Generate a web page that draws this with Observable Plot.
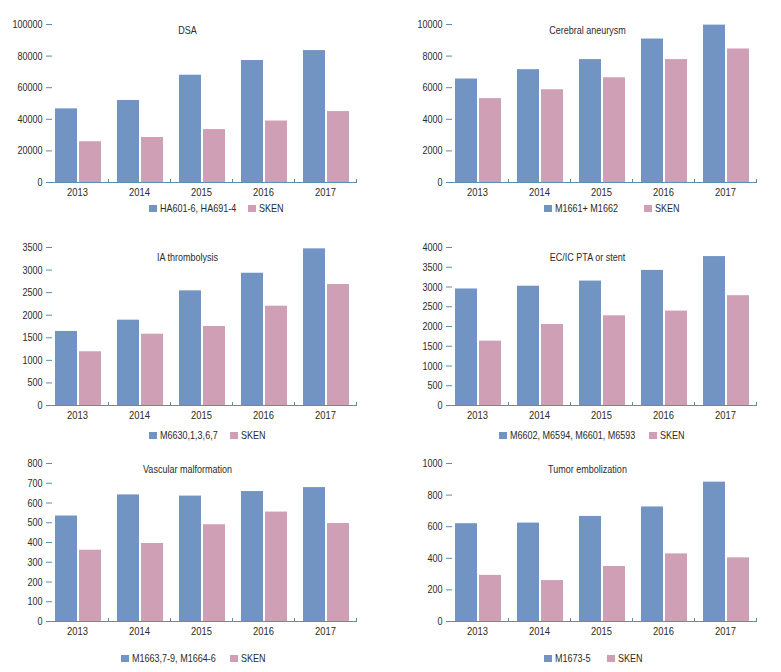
<!DOCTYPE html>
<html>
<head>
<meta charset="utf-8">
<script src="https://cdn.jsdelivr.net/npm/d3@7"></script>
<script src="https://cdn.jsdelivr.net/npm/@observablehq/plot@0.6"></script>
<style>
  body { margin: 0; background: #fff; }
  #root { position: relative; width: 781px; height: 672px; overflow: hidden;
          font-family: "Liberation Sans", Arial, sans-serif; }
  .panel { position: absolute; }
  .leg { position: absolute; display: flex; align-items: center; font-size: 11px; color: #2b2b2b;
         white-space: nowrap; transform: translateY(-50%); }
  .sw { display: inline-block; width: 8px; height: 7px; margin-right: 3px; }
  .lt { display: inline-block; transform: scaleX(0.82); transform-origin: 0 50%; }
</style>
</head>
<body>
<div id="root"></div>
<script>
// ---------- DATA ----------
const years = ["2013", "2014", "2015", "2016", "2017"];

const titles = ["DSA", "Cerebral aneurysm", "IA thrombolysis", "EC/IC PTA or stent",
                "Vascular malformation", "Tumor embolization"];

const codeNames = ["HA601-6, HA691-4", "M1661+ M1662", "M6630,1,3,6,7",
                   "M6602, M6594, M6601, M6593", "M1663,7-9, M1664-6", "M1673-5"];
const skenName = "SKEN";

const dsaCode   = [46600, 51900, 67900, 77200, 83500];
const dsaSken   = [25800, 28500, 33500, 38900, 44900];
const aneurCode = [6550, 7140, 7780, 9080, 9960];
const aneurSken = [5310, 5870, 6630, 7780, 8450];
const iaCode    = [1640, 1890, 2540, 2930, 3470];
const iaSken    = [1190, 1580, 1750, 2200, 2680];
const ecicCode  = [2950, 3020, 3150, 3420, 3770];
const ecicSken  = [1630, 2050, 2270, 2390, 2780];
const vascCode  = [534, 641, 635, 658, 678];
const vascSken  = [361, 395, 490, 554, 496];
const tumorCode = [619, 623, 665, 725, 882];
const tumorSken = [292, 259, 348, 428, 403];

const yMaxes = [100000, 10000, 3500, 4000, 800, 1000];
const yTickSteps = [20000, 2000, 500, 500, 100, 200];

const codeSeries = [dsaCode, aneurCode, iaCode, ecicCode, vascCode, tumorCode];
const skenSeries = [dsaSken, aneurSken, iaSken, ecicSken, vascSken, tumorSken];

// ---------- STYLE / LAYOUT ----------
const BLUE = "#7194c2";
const PINK = "#cf9fb5";
const AXIS = "#5a8db0";
const TEXT = "#2b2b2b";
const FONT = '"Liberation Sans", Arial, sans-serif';
const NARROW = 0.82;

const colLeft = [0, 390];
const colWidth = [390, 391];
const colMarginLeft = [45, 54];
const colMarginRight = [33, 24];
const rowTopTick = [24, 247, 463];
const titleDy = [2, 2, 6, 6, 2, 2];
const legendY = [208, 208, 435, 435, 658, 658];
const legendX = [[149, 248], [544, 644], [149, 230], [499, 649], [121, 230], [544, 607]];
const MT = 10, PH = 158, MB = 22;

const root = document.getElementById("root");

// horizontally condense every text of a chart around its own anchor point
function narrowText(svg) {
  svg.querySelectorAll("text").forEach(t => {
    const tr = t.getAttribute("transform") || "";
    t.setAttribute("transform", `${tr} scale(${NARROW},1)`);
  });
}

for (let k = 0; k < 6; k++) {
  const col = k % 2, row = Math.floor(k / 2);
  const names = [codeNames[k], skenName];
  const data = years.flatMap((y, i) => [
    {year: y, series: names[0], value: codeSeries[k][i]},
    {year: y, series: names[1], value: skenSeries[k][i]}
  ]);
  const yMax = yMaxes[k];
  const chart = Plot.plot({
    width: colWidth[col],
    height: MT + PH + MB,
    marginTop: MT,
    marginBottom: MB,
    marginLeft: colMarginLeft[col],
    marginRight: colMarginRight[col],
    style: {fontFamily: FONT, fontSize: "11px", color: TEXT, background: "transparent", overflow: "visible"},
    fx: {domain: years, padding: 0, label: null, axis: null},
    x: {domain: names, paddingInner: 0.08, paddingOuter: 0.288, align: 0.55, axis: null},
    y: {domain: [0, yMax], axis: null},
    color: {domain: names, range: [BLUE, PINK]},
    marks: [
      Plot.barY(data, {fx: "year", x: "series", y: "value", fill: "series"}),
      Plot.ruleY([0], {stroke: AXIS}),
      Plot.frame({anchor: "right", stroke: AXIS, insetTop: PH - 3}),
      Plot.axisY({
        ticks: d3.range(0, yMax + 1, yTickSteps[k]),
        tickFormat: d3.format("d"),
        tickSize: -6, tickPadding: 10,
        stroke: AXIS, fill: TEXT, line: true, label: null, fontSize: 11
      }),
      Plot.axisFx({anchor: "bottom", tickSize: 0, tickPadding: 5, fill: TEXT, label: null, fontSize: 11.5}),
      Plot.text([titles[k]], {
        fx: () => years[2], text: d => d, frameAnchor: "top",
        dx: -14, dy: titleDy[k], fill: TEXT, fontSize: 11
      })
    ]
  });
  narrowText(chart);
  const wrap = document.createElement("div");
  wrap.className = "panel";
  wrap.style.left = colLeft[col] + "px";
  wrap.style.top = (rowTopTick[row] - MT) + "px";
  wrap.appendChild(chart);
  root.appendChild(wrap);

  [BLUE, PINK].forEach((c, j) => {
    const item = document.createElement("div");
    item.className = "leg";
    item.style.left = legendX[k][j] + "px";
    item.style.top = legendY[k] + "px";
    const sw = document.createElement("span");
    sw.className = "sw";
    sw.style.background = c;
    const lt = document.createElement("span");
    lt.className = "lt";
    lt.textContent = names[j];
    item.appendChild(sw);
    item.appendChild(lt);
    root.appendChild(item);
  });
}
</script>
</body>
</html>
